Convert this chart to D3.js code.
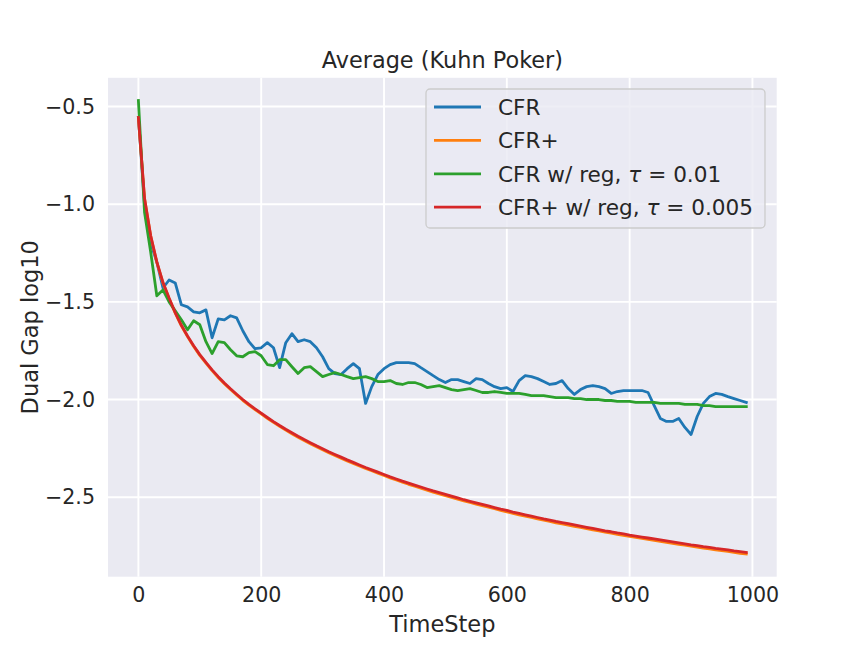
<!DOCTYPE html>
<html>
<head>
<meta charset="utf-8">
<script src="https://cdn.jsdelivr.net/npm/d3@7"></script>
<style>
  html, body { margin: 0; padding: 0; background: #ffffff; }
  svg { display: block; font-family: "DejaVu Sans", sans-serif; }
</style>
</head>
<body>
<svg id="chart" width="863" height="648"></svg>
<script>
// ---- data ----
const steps = [0,10,20,30,40,50,60,70,80,90,100,110,120,130,140,150,160,170,180,190,
  200,210,220,230,240,250,260,270,280,290,300,310,320,330,340,350,360,370,380,390,
  400,410,420,430,440,450,460,470,480,490,500,510,520,530,540,550,560,570,580,590,
  600,610,620,630,640,650,660,670,680,690,700,710,720,730,740,750,760,770,780,790,
  800,810,820,830,840,850,860,870,880,890,900,910,920,930,940,950,960,970,980,990];

const seriesNames = ["CFR", "CFR+", "CFR w/ reg, τ = 0.01", "CFR+ w/ reg, τ = 0.005"];
const seriesColors = ["#1f77b4", "#ff7f0e", "#2ca02c", "#d62728"];

const cfr = [-0.556,-1.0,-1.199,-1.296,-1.429,-1.388,-1.403,-1.515,-1.526,-1.551,
  -1.556,-1.541,-1.684,-1.587,-1.592,-1.571,-1.582,-1.648,-1.704,-1.74,
  -1.735,-1.709,-1.735,-1.837,-1.709,-1.663,-1.704,-1.694,-1.704,-1.735,
  -1.781,-1.842,-1.867,-1.872,-1.842,-1.816,-1.842,-2.02,-1.934,-1.872,
  -1.842,-1.821,-1.811,-1.811,-1.811,-1.816,-1.837,-1.857,-1.878,-1.898,
  -1.913,-1.898,-1.898,-1.908,-1.918,-1.893,-1.898,-1.918,-1.934,-1.944,
  -1.939,-1.959,-1.903,-1.878,-1.883,-1.893,-1.908,-1.923,-1.918,-1.903,
  -1.944,-1.974,-1.949,-1.934,-1.929,-1.934,-1.944,-1.969,-1.959,-1.954,
  -1.954,-1.954,-1.954,-1.964,-2.031,-2.097,-2.112,-2.112,-2.097,-2.143,
  -2.179,-2.087,-2.02,-1.985,-1.969,-1.974,-1.985,-1.995,-2.005,-2.015];

const cfrPlus = [-0.556,-0.972,-1.163,-1.298,-1.403,-1.483,-1.558,-1.623,-1.678,-1.728,
  -1.774,-1.814,-1.852,-1.887,-1.919,-1.949,-1.977,-2.004,-2.029,-2.052,
  -2.074,-2.096,-2.117,-2.137,-2.156,-2.175,-2.193,-2.21,-2.226,-2.242,
  -2.257,-2.272,-2.286,-2.3,-2.314,-2.327,-2.34,-2.353,-2.365,-2.377,
  -2.389,-2.401,-2.412,-2.423,-2.434,-2.444,-2.454,-2.464,-2.474,-2.483,
  -2.492,-2.501,-2.51,-2.519,-2.527,-2.535,-2.543,-2.551,-2.559,-2.567,
  -2.575,-2.583,-2.59,-2.597,-2.604,-2.611,-2.618,-2.624,-2.631,-2.637,
  -2.643,-2.649,-2.655,-2.661,-2.667,-2.673,-2.679,-2.684,-2.69,-2.695,
  -2.701,-2.706,-2.711,-2.716,-2.721,-2.726,-2.731,-2.736,-2.741,-2.746,
  -2.751,-2.756,-2.761,-2.765,-2.77,-2.774,-2.778,-2.783,-2.787,-2.791];

const cfrReg = [-0.469,-1.041,-1.245,-1.469,-1.439,-1.5,-1.546,-1.592,-1.643,-1.597,
  -1.617,-1.704,-1.765,-1.704,-1.709,-1.745,-1.776,-1.781,-1.76,-1.755,
  -1.776,-1.821,-1.827,-1.796,-1.796,-1.832,-1.867,-1.837,-1.832,-1.857,
  -1.883,-1.872,-1.862,-1.872,-1.883,-1.893,-1.888,-1.883,-1.893,-1.908,
  -1.908,-1.903,-1.918,-1.923,-1.913,-1.913,-1.923,-1.939,-1.934,-1.929,
  -1.939,-1.949,-1.954,-1.949,-1.944,-1.954,-1.964,-1.964,-1.959,-1.964,
  -1.969,-1.969,-1.969,-1.974,-1.98,-1.98,-1.98,-1.985,-1.99,-1.99,
  -1.99,-1.995,-1.995,-2.0,-2.0,-2.0,-2.005,-2.005,-2.01,-2.01,
  -2.01,-2.015,-2.015,-2.015,-2.015,-2.02,-2.02,-2.02,-2.02,-2.025,
  -2.025,-2.025,-2.031,-2.031,-2.036,-2.036,-2.036,-2.036,-2.036,-2.036];

const cfrPlusReg = [-0.556,-0.97,-1.16,-1.295,-1.40,-1.48,-1.555,-1.62,-1.675,-1.725,
  -1.77,-1.81,-1.848,-1.883,-1.915,-1.945,-1.973,-2.0,-2.025,-2.048,
  -2.07,-2.092,-2.113,-2.133,-2.152,-2.17,-2.188,-2.205,-2.221,-2.237,
  -2.252,-2.267,-2.281,-2.295,-2.309,-2.322,-2.335,-2.348,-2.36,-2.372,
  -2.384,-2.396,-2.407,-2.418,-2.428,-2.438,-2.448,-2.458,-2.468,-2.477,
  -2.486,-2.495,-2.504,-2.513,-2.521,-2.529,-2.537,-2.545,-2.553,-2.561,
  -2.568,-2.576,-2.583,-2.59,-2.597,-2.604,-2.611,-2.617,-2.624,-2.63,
  -2.636,-2.642,-2.648,-2.654,-2.66,-2.666,-2.672,-2.677,-2.683,-2.688,
  -2.694,-2.699,-2.704,-2.709,-2.714,-2.719,-2.724,-2.729,-2.734,-2.739,
  -2.744,-2.748,-2.753,-2.757,-2.762,-2.766,-2.77,-2.775,-2.779,-2.783];

const xTicks = [0, 200, 400, 600, 800, 1000];
const yTicks = [-2.5, -2.0, -1.5, -1.0, -0.5];

const titleText = "Average (Kuhn Poker)";
const xLabel = "TimeStep";
const yLabel = "Dual Gap log10";

// ---- layout ----
const W = 863, H = 648;
const L = 108, R = 776.7, T = 77.8, B = 576.7;
const allSeries = [cfr, cfrPlus, cfrReg, cfrPlusReg];

const svg = d3.select("#chart");
const textColor = "#262626";

const xExt = d3.extent(steps);
const xPad = (xExt[1] - xExt[0]) * 0.05;
const allVals = allSeries.flat();
const yExt = d3.extent(allVals);
const yPad = (yExt[1] - yExt[0]) * 0.05;

const x = d3.scaleLinear().domain([xExt[0] - xPad, xExt[1] + xPad]).range([L, R]);
const y = d3.scaleLinear().domain([yExt[0] - yPad, yExt[1] + yPad]).range([B, T]);

// background
svg.append("rect").attr("x", L).attr("y", T).attr("width", R - L).attr("height", B - T)
  .attr("fill", "#EAEAF2");

svg.append("clipPath").attr("id", "clip").append("rect")
  .attr("x", L).attr("y", T).attr("width", R - L).attr("height", B - T);

// grid
const grid = svg.append("g");
grid.selectAll(".vg").data(xTicks).enter().append("line")
  .attr("x1", d => x(d)).attr("x2", d => x(d)).attr("y1", T).attr("y2", B)
  .attr("stroke", "#ffffff").attr("stroke-width", 1.9);
grid.selectAll(".hg").data(yTicks).enter().append("line")
  .attr("x1", L).attr("x2", R).attr("y1", d => y(d)).attr("y2", d => y(d))
  .attr("stroke", "#ffffff").attr("stroke-width", 1.9);

// axes (no tick marks, labels only)
const fmtY = d3.format(".1f");
const xAxis = d3.axisBottom(x).tickValues(xTicks).tickSize(0).tickPadding(11).tickFormat(d3.format("d"));
const yAxis = d3.axisLeft(y).tickValues(yTicks).tickSize(0).tickPadding(13).tickFormat(fmtY);

const gx = svg.append("g").attr("transform", `translate(0,${B})`).call(xAxis);
const gy = svg.append("g").attr("transform", `translate(${L},0)`).call(yAxis);
[gx, gy].forEach(g => {
  g.select(".domain").remove();
  g.selectAll("text").attr("fill", textColor).style("font-size", "20.6px")
    .style("font-family", "'DejaVu Sans', sans-serif");
});

// lines
const line = d3.line().x((d, i) => x(steps[i])).y(d => y(d));
const lg = svg.append("g").attr("clip-path", "url(#clip)");
allSeries.forEach((s, k) => {
  lg.append("path").datum(s).attr("d", line)
    .attr("fill", "none").attr("stroke", seriesColors[k])
    .attr("stroke-width", 2.8).attr("stroke-linejoin", "round").attr("stroke-linecap", "square");
});

// title & labels
svg.append("text").attr("x", (L + R) / 2).attr("y", 68).attr("text-anchor", "middle")
  .attr("fill", textColor).style("font-size", "22.4px").text(titleText);
svg.append("text").attr("x", (L + R) / 2).attr("y", 632).attr("text-anchor", "middle")
  .attr("fill", textColor).style("font-size", "22.5px").text(xLabel);
svg.append("text").attr("transform", `translate(38,${(T + B) / 2}) rotate(-90)`)
  .attr("text-anchor", "middle").attr("fill", textColor).style("font-size", "22.5px").text(yLabel);

// legend
const leg = svg.append("g");
leg.append("rect").attr("x", 426).attr("y", 89).attr("width", 339).attr("height", 139)
  .attr("rx", 4).attr("fill", "#EAEAF2").attr("fill-opacity", 0.8)
  .attr("stroke", "#cccccc").attr("stroke-width", 1.3);
seriesNames.forEach((name, k) => {
  const cy = 107 + k * 33.4;
  leg.append("line").attr("x1", 434).attr("x2", 481).attr("y1", cy).attr("y2", cy)
    .attr("stroke", seriesColors[k]).attr("stroke-width", 2.8);
  const t = leg.append("text").attr("x", 498).attr("y", cy + 7.8)
    .attr("fill", textColor).style("font-size", "21.6px");
  const idx = name.indexOf("τ");
  if (idx < 0) {
    t.text(name);
  } else {
    t.append("tspan").text(name.slice(0, idx));
    t.append("tspan").style("font-style", "italic").text("τ");
    t.append("tspan").text(name.slice(idx + 1));
  }
});
</script>
</body>
</html>
